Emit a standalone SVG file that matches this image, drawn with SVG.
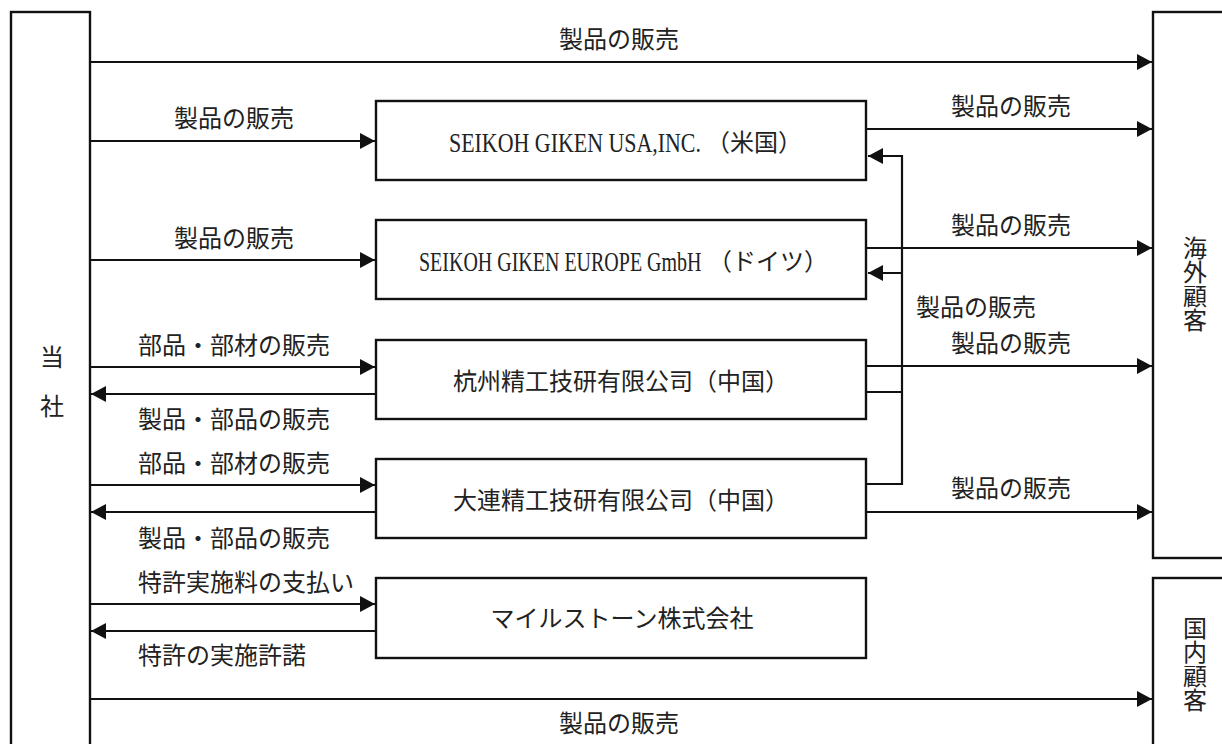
<svg xmlns="http://www.w3.org/2000/svg" width="1222" height="744" viewBox="0 0 1222 744">
<style>
  .box { fill: #ffffff; stroke: #111111; stroke-width: 2.4; }
  .ln { fill: none; stroke: #111111; stroke-width: 2.2; }
  .jp { font-family: "Noto Sans CJK JP", "Liberation Sans", sans-serif; font-size: 24px; fill: #222222; }
  .lat { font-family: "Liberation Serif", "Noto Sans CJK JP", serif; font-size: 27px; fill: #222222; }
  .mid { text-anchor: middle; }
  .vt { writing-mode: vertical-rl; }
</style>
<defs>
  <marker id="ah" markerUnits="userSpaceOnUse" markerWidth="16" markerHeight="16" refX="15" refY="8" orient="auto">
    <path d="M0,0 L15,8 L0,16 Z" fill="#111111"/>
  </marker>
</defs>
<rect width="1222" height="744" fill="#ffffff"/>

<g id="toujsha">
  <rect class="box" x="11" y="12" width="79" height="745"/>
  <text class="jp mid" x="52" y="366">当</text>
  <text class="jp mid" x="52" y="415">社</text>
</g>

<g id="kaigai">
  <rect class="box" x="1153" y="12" width="80" height="546"/>
  <text class="jp vt" x="1195" y="236">海外顧客</text>
</g>

<g id="kokunai">
  <rect class="box" x="1153" y="578" width="80" height="180"/>
  <text class="jp vt" x="1195" y="616">国内顧客</text>
</g>

<g id="usa">
  <rect class="box" x="376" y="101" width="490" height="79"/>
  <text class="lat" transform="translate(449,152) scale(0.812,1)" x="0" y="0">SEIKOH GIKEN USA,INC.</text>
  <text class="jp" x="706" y="151">（米国）</text>
</g>

<g id="europe">
  <rect class="box" x="376" y="220" width="490" height="79"/>
  <text class="lat" transform="translate(419,271) scale(0.74,1)" x="0" y="0">SEIKOH GIKEN EUROPE GmbH</text>
  <text class="jp" x="708" y="270">（ドイツ）</text>
</g>

<g id="hangzhou">
  <rect class="box" x="376" y="340" width="490" height="79"/>
  <text class="jp mid" x="621" y="390">杭州精工技研有限公司（中国）</text>
</g>

<g id="dalian">
  <rect class="box" x="376" y="459" width="490" height="79"/>
  <text class="jp mid" x="621" y="509">大連精工技研有限公司（中国）</text>
</g>

<g id="milestone">
  <rect class="box" x="376" y="578" width="490" height="80"/>
  <text class="jp mid" x="622" y="627">マイルストーン株式会社</text>
</g>

<g id="connectors">
  <line class="ln" x1="91" y1="62" x2="1152" y2="62" marker-end="url(#ah)"/>
  <line class="ln" x1="91" y1="141" x2="375" y2="141" marker-end="url(#ah)"/>
  <line class="ln" x1="91" y1="260" x2="375" y2="260" marker-end="url(#ah)"/>
  <line class="ln" x1="91" y1="367" x2="375" y2="367" marker-end="url(#ah)"/>
  <line class="ln" x1="375" y1="394" x2="91" y2="394" marker-end="url(#ah)"/>
  <line class="ln" x1="91" y1="485" x2="375" y2="485" marker-end="url(#ah)"/>
  <line class="ln" x1="375" y1="512" x2="91" y2="512" marker-end="url(#ah)"/>
  <line class="ln" x1="91" y1="604" x2="375" y2="604" marker-end="url(#ah)"/>
  <line class="ln" x1="375" y1="631" x2="91" y2="631" marker-end="url(#ah)"/>
  <line class="ln" x1="91" y1="699" x2="1152" y2="699" marker-end="url(#ah)"/>

  <line class="ln" x1="867" y1="129" x2="1152" y2="129" marker-end="url(#ah)"/>
  <line class="ln" x1="867" y1="248" x2="1152" y2="248" marker-end="url(#ah)"/>
  <line class="ln" x1="867" y1="366" x2="1152" y2="366" marker-end="url(#ah)"/>
  <line class="ln" x1="867" y1="512" x2="1152" y2="512" marker-end="url(#ah)"/>

  <polyline class="ln" points="867,392 902,392"/>
  <polyline class="ln" points="867,484 902,484 902,156 868,156" marker-end="url(#ah)"/>
  <line class="ln" x1="902" y1="273" x2="868" y2="273" marker-end="url(#ah)"/>

  <g id="labels">
    <text class="jp" x="559" y="48">製品の販売</text>
    <text class="jp" x="174" y="127">製品の販売</text>
    <text class="jp" x="174" y="247">製品の販売</text>
    <text class="jp" x="138" y="354">部品・部材の販売</text>
    <text class="jp" x="138" y="428">製品・部品の販売</text>
    <text class="jp" x="138" y="472">部品・部材の販売</text>
    <text class="jp" x="138" y="547">製品・部品の販売</text>
    <text class="jp" x="138" y="591">特許実施料の支払い</text>
    <text class="jp" x="138" y="664">特許の実施許諾</text>
    <text class="jp" x="951" y="115">製品の販売</text>
    <text class="jp" x="951" y="234">製品の販売</text>
    <text class="jp" x="916" y="316">製品の販売</text>
    <text class="jp" x="951" y="352">製品の販売</text>
    <text class="jp" x="951" y="497">製品の販売</text>
    <text class="jp" x="559" y="732">製品の販売</text>
  </g>
</g>
</svg>
